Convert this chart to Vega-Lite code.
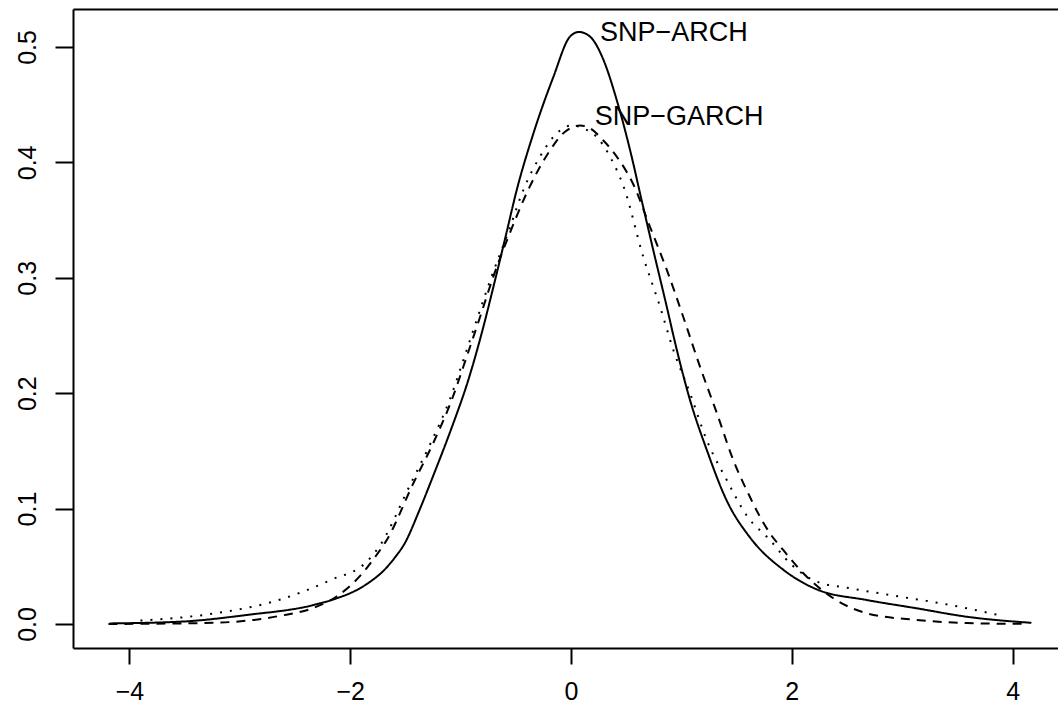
{
  "$schema": "https://vega.github.io/schema/vega-lite/v6.json",
  "autosize": {"type": "none"},
  "padding": {"left": 73, "top": 9, "right": 0, "bottom": 57},
  "width": 985,
  "height": 639,
  "background": "white",
  "config": {
    "view": {"stroke": null},
    "font": "Liberation Sans",
    "axis": {
      "domainColor": "black", "domainWidth": 2, "tickColor": "black", "tickWidth": 2,
      "labelColor": "black", "labelFont": "Liberation Sans", "labelFontSize": 25,
      "grid": false, "title": null
    }
  },
  "datasets": {
    "curves": [
      {"s": "ARCH", "x": -4.18, "y": 0.0005}, {"s": "ARCH", "x": -3.54, "y": 0.002}, {"s": "ARCH", "x": -2.94, "y": 0.0078},
      {"s": "ARCH", "x": -2.33, "y": 0.0165}, {"s": "ARCH", "x": -2.13, "y": 0.022}, {"s": "ARCH", "x": -1.93, "y": 0.03},
      {"s": "ARCH", "x": -1.8, "y": 0.038}, {"s": "ARCH", "x": -1.7, "y": 0.046}, {"s": "ARCH", "x": -1.6, "y": 0.057},
      {"s": "ARCH", "x": -1.5, "y": 0.071}, {"s": "ARCH", "x": -1.38, "y": 0.097},
      {"s": "ARCH", "x": -1.25, "y": 0.128}, {"s": "ARCH", "x": -1.066, "y": 0.174},
      {"s": "ARCH", "x": -0.945, "y": 0.207}, {"s": "ARCH", "x": -0.809, "y": 0.252}, {"s": "ARCH", "x": -0.688, "y": 0.298},
      {"s": "ARCH", "x": -0.582, "y": 0.34}, {"s": "ARCH", "x": -0.5, "y": 0.373}, {"s": "ARCH", "x": -0.341, "y": 0.425},
      {"s": "ARCH", "x": -0.16, "y": 0.474}, {"s": "ARCH", "x": -0.009, "y": 0.509}, {"s": "ARCH", "x": 0.072, "y": 0.513},
      {"s": "ARCH", "x": 0.172, "y": 0.509}, {"s": "ARCH", "x": 0.293, "y": 0.489}, {"s": "ARCH", "x": 0.414, "y": 0.454},
      {"s": "ARCH", "x": 0.534, "y": 0.411}, {"s": "ARCH", "x": 0.64, "y": 0.367}, {"s": "ARCH", "x": 0.745, "y": 0.324},
      {"s": "ARCH", "x": 0.867, "y": 0.275}, {"s": "ARCH", "x": 0.957, "y": 0.238}, {"s": "ARCH", "x": 1.078, "y": 0.194},
      {"s": "ARCH", "x": 1.229, "y": 0.151}, {"s": "ARCH", "x": 1.41, "y": 0.107}, {"s": "ARCH", "x": 1.621, "y": 0.075},
      {"s": "ARCH", "x": 1.923, "y": 0.047}, {"s": "ARCH", "x": 2.226, "y": 0.03}, {"s": "ARCH", "x": 2.678, "y": 0.0208},
      {"s": "ARCH", "x": 3.131, "y": 0.0136}, {"s": "ARCH", "x": 3.584, "y": 0.0063}, {"s": "ARCH", "x": 4.17, "y": 0.001},

      {"s": "GARCH", "x": -4.19, "y": 0.0}, {"s": "GARCH", "x": -3.84, "y": 0.0002}, {"s": "GARCH", "x": -3.24, "y": 0.001},
      {"s": "GARCH", "x": -2.64, "y": 0.007}, {"s": "GARCH", "x": -2.33, "y": 0.014}, {"s": "GARCH", "x": -2.12, "y": 0.024},
      {"s": "GARCH", "x": -1.88, "y": 0.045}, {"s": "GARCH", "x": -1.76, "y": 0.06}, {"s": "GARCH", "x": -1.669, "y": 0.0728},
      {"s": "GARCH", "x": -1.428, "y": 0.122}, {"s": "GARCH", "x": -1.247, "y": 0.157}, {"s": "GARCH", "x": -1.081, "y": 0.194},
      {"s": "GARCH", "x": -0.945, "y": 0.2316}, {"s": "GARCH", "x": -0.824, "y": 0.266}, {"s": "GARCH", "x": -0.704, "y": 0.301},
      {"s": "GARCH", "x": -0.553, "y": 0.339}, {"s": "GARCH", "x": -0.401, "y": 0.3735}, {"s": "GARCH", "x": -0.22, "y": 0.406},
      {"s": "GARCH", "x": -0.054, "y": 0.4266}, {"s": "GARCH", "x": 0.082, "y": 0.432}, {"s": "GARCH", "x": 0.172, "y": 0.4295},
      {"s": "GARCH", "x": 0.293, "y": 0.419}, {"s": "GARCH", "x": 0.414, "y": 0.405}, {"s": "GARCH", "x": 0.564, "y": 0.381},
      {"s": "GARCH", "x": 0.716, "y": 0.344}, {"s": "GARCH", "x": 0.867, "y": 0.307}, {"s": "GARCH", "x": 1.017, "y": 0.266},
      {"s": "GARCH", "x": 1.168, "y": 0.223}, {"s": "GARCH", "x": 1.32, "y": 0.183}, {"s": "GARCH", "x": 1.47, "y": 0.142},
      {"s": "GARCH", "x": 1.621, "y": 0.11}, {"s": "GARCH", "x": 1.7, "y": 0.095}, {"s": "GARCH", "x": 1.802, "y": 0.0786},
      {"s": "GARCH", "x": 1.923, "y": 0.064}, {"s": "GARCH", "x": 2.104, "y": 0.044}, {"s": "GARCH", "x": 2.376, "y": 0.0223},
      {"s": "GARCH", "x": 2.678, "y": 0.0093}, {"s": "GARCH", "x": 3.131, "y": 0.0035}, {"s": "GARCH", "x": 3.584, "y": 0.0008},
      {"s": "GARCH", "x": 4.09, "y": 0.0001},

      {"s": "OTHER", "x": -3.9, "y": 0.003}, {"s": "OTHER", "x": -3.24, "y": 0.009}, {"s": "OTHER", "x": -2.64, "y": 0.021},
      {"s": "OTHER", "x": -2.18, "y": 0.038}, {"s": "OTHER", "x": -1.85, "y": 0.054}, {"s": "OTHER", "x": -1.745, "y": 0.066},
      {"s": "OTHER", "x": -1.45, "y": 0.122}, {"s": "OTHER", "x": -1.27, "y": 0.157}, {"s": "OTHER", "x": -1.1, "y": 0.194},
      {"s": "OTHER", "x": -0.965, "y": 0.2316}, {"s": "OTHER", "x": -0.845, "y": 0.266}, {"s": "OTHER", "x": -0.72, "y": 0.301},
      {"s": "OTHER", "x": -0.57, "y": 0.339}, {"s": "OTHER", "x": -0.432, "y": 0.376}, {"s": "OTHER", "x": -0.281, "y": 0.405},
      {"s": "OTHER", "x": -0.13, "y": 0.425}, {"s": "OTHER", "x": 0.006, "y": 0.432}, {"s": "OTHER", "x": 0.111, "y": 0.4295},
      {"s": "OTHER", "x": 0.233, "y": 0.422}, {"s": "OTHER", "x": 0.353, "y": 0.405}, {"s": "OTHER", "x": 0.48, "y": 0.378},
      {"s": "OTHER", "x": 0.655, "y": 0.318}, {"s": "OTHER", "x": 0.806, "y": 0.275}, {"s": "OTHER", "x": 0.927, "y": 0.2374},
      {"s": "OTHER", "x": 1.078, "y": 0.2}, {"s": "OTHER", "x": 1.229, "y": 0.1594}, {"s": "OTHER", "x": 1.41, "y": 0.1248},
      {"s": "OTHER", "x": 1.591, "y": 0.094}, {"s": "OTHER", "x": 1.802, "y": 0.0728}, {"s": "OTHER", "x": 1.984, "y": 0.0526},
      {"s": "OTHER", "x": 2.226, "y": 0.0367}, {"s": "OTHER", "x": 2.527, "y": 0.031}, {"s": "OTHER", "x": 2.98, "y": 0.0237},
      {"s": "OTHER", "x": 3.433, "y": 0.0165}, {"s": "OTHER", "x": 3.87, "y": 0.0078}
    ],
    "labels": [
      {"label": "SNP−ARCH", "x": 0.263, "y": 0.512},
      {"label": "SNP−GARCH", "x": 0.215, "y": 0.439}
    ]
  },
  "resolve": {"axis": {"x": "independent"}},
  "layer": [
    {
      "data": {"name": "curves"},
      "mark": {"type": "line", "color": "black", "strokeWidth": 2, "interpolate": "monotone", "clip": true},
      "encoding": {
        "x": {"field": "x", "type": "quantitative",
          "scale": {"domain": [-4.511, 4.411], "nice": false, "zero": false},
          "axis": {"orient": "bottom", "values": [-4, -2, 0, 2, 4], "tickSize": 16, "labelPadding": 15, "labelFlush": false, "labelOverlap": false}},
        "y": {"field": "y", "type": "quantitative",
          "scale": {"domain": [-0.0208, 0.5329], "nice": false, "zero": false},
          "axis": {"values": [0, 0.1, 0.2, 0.3, 0.4, 0.5], "format": ".1f", "tickSize": 18, "labelAngle": -90, "labelAlign": "center", "labelBaseline": "bottom", "labelPadding": 15, "labelFlush": false, "labelOverlap": false}},
        "detail": {"field": "s"},
        "strokeDash": {"field": "s", "type": "nominal",
          "scale": {"domain": ["ARCH", "GARCH", "OTHER"], "range": [[1, 0], [9, 7], [2, 8]]},
          "legend": null}
      }
    },
    {
      "data": {"name": "labels"},
      "mark": {"type": "text", "align": "left", "baseline": "middle", "fontSize": 27, "font": "Liberation Sans", "color": "black"},
      "encoding": {
        "x": {"field": "x", "type": "quantitative",
          "axis": {"orient": "top", "labels": false, "ticks": false, "domain": true}},
        "y": {"field": "y", "type": "quantitative"},
        "text": {"field": "label"}
      }
    }
  ]
}
